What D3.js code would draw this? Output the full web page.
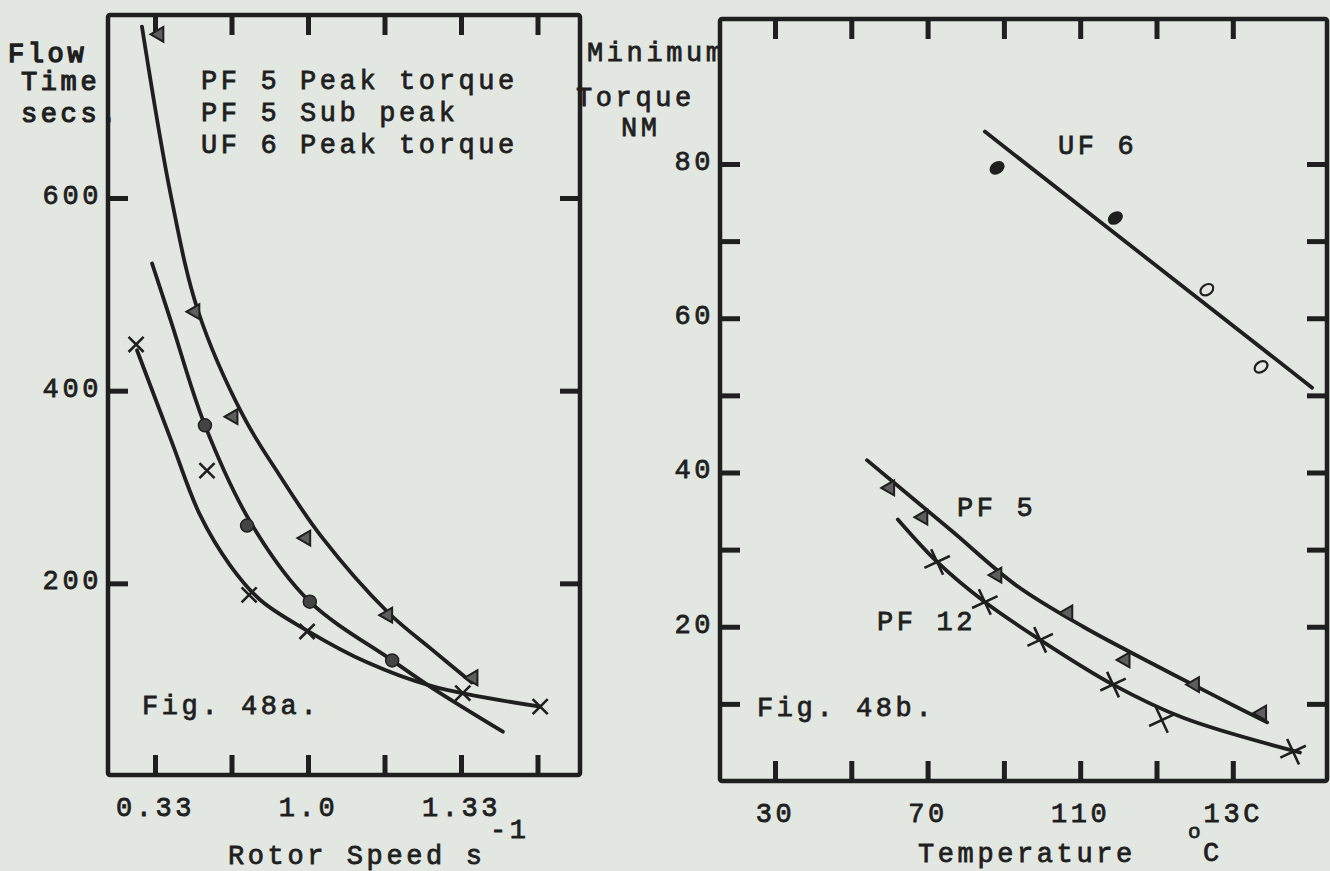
<!DOCTYPE html>
<html>
<head>
<meta charset="utf-8">
<script src="https://cdn.jsdelivr.net/npm/d3@7"></script>
<style>
  html, body { margin: 0; padding: 0; background: #e3e7e1; }
  svg { display: block; }
  text {
    font-family: "Liberation Mono", "DejaVu Sans Mono", monospace;
    font-size: 27px;
    letter-spacing: 3.6px;
    fill: #1f1f1f;
    stroke: #1f1f1f;
    stroke-width: 0.8px;
  }
</style>
</head>
<body>
<svg id="chart" width="1330" height="871"></svg>
<script>
// ---------- Fig. 48a : flow time against rotor speed ----------
const speedTicks = [0.33, 0.67, 1.0, 1.17, 1.33, 1.5];
const speedTickLabels = ["0.33", "", "1.0", "", "1.33", ""];
const flowTicks = [200, 400, 600];
const flowLegend = ["PF 5 Peak torque", "PF 5 Sub peak", "UF 6 Peak torque"];

// measured points [rotor speed, flow time]
const pf5PeakPts = [[0.348, 770], [0.508, 482], [0.677, 373], [0.991, 247], [1.177, 167], [1.357, 102]];
const pf5SubPts  = [[0.552, 364], [0.737, 260], [1.004, 181], [1.186, 120]];
const uf6PeakPts = [[0.246, 448], [0.561, 317], [0.746, 188], [0.996, 150], [1.334, 86], [1.506, 72]];

// hand-drawn fitted curves
const pf5PeakFit = [[0.272, 778], [0.401, 602], [0.521, 483], [0.720, 374], [0.875, 313], [1.029, 249], [1.177, 170], [1.265, 133], [1.354, 97]];
const pf5SubFit  = [[0.317, 532], [0.401, 472], [0.552, 364], [0.758, 261], [1.004, 181], [1.186, 120], [1.271, 91], [1.423, 46]];
const uf6PeakFit = [[0.250, 442], [0.401, 349], [0.530, 271], [0.663, 219], [0.793, 183], [0.996, 151], [1.131, 118], [1.271, 93], [1.506, 72]];

// ---------- Fig. 48b : minimum torque against temperature ----------
const tempTicks = [30, 50, 70, 90, 110, 120, 130];
const tempTickLabels = ["30", "", "70", "", "110", "", "13C"];
const torqueTicks = [10, 20, 30, 40, 50, 60, 70, 80];
const torqueLabelled = [20, 40, 60, 80];

// measured points [temperature, torque]
const uf6Pts  = [[88.2, 79.5], [114.6, 73.0], [126.6, 63.7], [133.7, 53.7]];
const pf5Pts  = [[60.1, 38.0], [68.8, 34.2], [88.2, 26.7], [106.8, 21.8], [115.9, 15.7], [125.0, 12.5], [133.8, 8.8]];
const pf12Pts = [[72.5, 28.4], [85.0, 23.2], [99.5, 18.3], [114.3, 12.5], [120.7, 7.9], [137.9, 3.8]];

// fitted lines
const uf6Fit  = [[85.0, 84.2], [140.4, 51.0]];
const pf5Fit  = [[54.1, 41.6], [75.9, 32.6], [93.4, 25.3], [110.4, 20.0], [119.1, 15.4], [127.9, 10.9], [134.5, 7.6]];
const pf12Fit = [[62.2, 33.9], [72.5, 28.4], [85.0, 23.2], [99.5, 18.3], [114.3, 12.5], [123.5, 8.2], [138.8, 3.7]];

// ---------- drawing ----------
const INK = "#1f1f1f";
const svg = d3.select("#chart");

const A = { left: 108, right: 580, top: 15, bottom: 775, tick0: 155, step: 76.5 };
const B = { left: 720, right: 1327, top: 19, bottom: 781, tick0: 775, step: 76.3 };

// typed tick values are not evenly spaced, so each axis is piecewise linear
const xA = d3.scaleLinear().domain(speedTicks).range(speedTicks.map((d, i) => A.tick0 + i * A.step));
const yA = d3.scaleLinear().domain([0, 790]).range([776, A.top]);
const xB = d3.scaleLinear().domain(tempTicks).range(tempTicks.map((d, i) => B.tick0 + i * B.step));
const yB = d3.scaleLinear().domain([0, 98.8]).range([781, B.top]);

const TICK = 20;

function styleAxis(g) {
  g.select(".domain").remove();
  g.selectAll(".tick line").attr("stroke", INK).attr("stroke-width", 5);
}

function drawPanel(P, x, y, xVals, xLabs, yVals, yFmt) {
  const g = svg.append("g");
  // tick marks on all four sides point into the plot
  const bottom = g.append("g").attr("transform", `translate(0,${P.bottom})`)
    .call(d3.axisBottom(x).tickValues(xVals).tickSize(-TICK).tickPadding(0)
      .tickFormat((d, i) => xLabs[i]));
  styleAxis(bottom);
  bottom.selectAll(".tick text").attr("y", 41).attr("dy", 0);

  g.append("g").attr("transform", `translate(0,${P.top})`)
    .call(d3.axisTop(x).tickValues(xVals).tickSize(-TICK).tickFormat(""))
    .call(styleAxis);

  const left = g.append("g").attr("transform", `translate(${P.left},0)`)
    .call(d3.axisLeft(y).tickValues(yVals).tickSize(-TICK).tickPadding(6).tickFormat(yFmt));
  styleAxis(left);
  left.selectAll(".tick text").attr("dy", "0.2em").attr("text-anchor", "end");

  g.append("g").attr("transform", `translate(${P.right},0)`)
    .call(d3.axisRight(y).tickValues(yVals).tickSize(-TICK).tickFormat(""))
    .call(styleAxis);

  g.selectAll(".tick text")
    .attr("font-family", null).attr("font-size", null)
    .attr("fill", INK);

  return g;
}

// axis titles (drawn first so the frames sit over their edges)
const titles = svg.append("g");
titles.append("text").attr("x", 8).attr("y", 62).text("Flow").style("stroke-width", "1.5px");
titles.append("text").attr("x", 21).attr("y", 90).text("Time").style("stroke-width", "1.2px");
titles.append("text").attr("x", 21).attr("y", 122).text("secs.").style("stroke-width", "1.2px");
titles.append("text").attr("x", 587).attr("y", 61).text("Minimum");
titles.append("text").attr("x", 576).attr("y", 106).text("Torque");
titles.append("text").attr("x", 621).attr("y", 136).text("NM");

titles.append("text").attr("x", 228).attr("y", 864).text("Rotor Speed s");
titles.append("text").attr("x", 490).attr("y", 838).text("-1");
titles.append("text").attr("x", 918).attr("y", 862).text("Temperature");
titles.append("text").attr("x", 1188).attr("y", 838).text("o").style("font-size", "21px");
titles.append("text").attr("x", 1203).attr("y", 861).text("C");

const pA = drawPanel(A, xA, yA, speedTicks, speedTickLabels, flowTicks, d => d);
const pB = drawPanel(B, xB, yB, tempTicks, tempTickLabels, torqueTicks,
  d => torqueLabelled.includes(d) ? d : "");

// frames
[A, B].forEach(P => {
  svg.append("rect")
    .attr("x", P.left).attr("y", P.top)
    .attr("width", P.right - P.left).attr("height", P.bottom - P.top)
    .attr("fill", "none").attr("stroke", INK).attr("stroke-width", 4.5)
    .attr("rx", 2);
});

// smooth fitted curves
const curveA = d3.line().x(d => xA(d[0])).y(d => yA(d[1])).curve(d3.curveCatmullRom.alpha(0.5));
const curveB = d3.line().x(d => xB(d[0])).y(d => yB(d[1])).curve(d3.curveCatmullRom.alpha(0.5));

[pf5PeakFit, pf5SubFit, uf6PeakFit].forEach(s =>
  svg.append("path").attr("d", curveA(s)).attr("fill", "none")
    .attr("stroke", INK).attr("stroke-width", 3.8).attr("stroke-linecap", "round"));
[uf6Fit, pf5Fit, pf12Fit].forEach(s =>
  svg.append("path").attr("d", curveB(s)).attr("fill", "none")
    .attr("stroke", INK).attr("stroke-width", 3.8).attr("stroke-linecap", "round"));

// markers
const tri = d3.symbol().type(d3.symbolTriangle).size(95);
const times = d3.symbol().type(d3.symbolTimes).size(150);
const plus = d3.symbol().type(d3.symbolPlus).size(260);

function triangles(data, x, y) {
  svg.append("g").selectAll("path").data(data).join("path")
    .attr("d", tri)
    .attr("transform", d => `translate(${x(d[0])},${y(d[1])}) rotate(-90)`)
    .attr("fill", "#5e5e5e").attr("stroke", INK).attr("stroke-width", 2);
}
function crosses(data, x, y, sym, angle) {
  svg.append("g").selectAll("path").data(data).join("path")
    .attr("d", sym)
    .attr("transform", d => `translate(${x(d[0])},${y(d[1])}) rotate(${angle})`)
    .attr("fill", "none").attr("stroke", INK).attr("stroke-width", 2.6);
}

triangles(pf5PeakPts, xA, yA);
svg.append("g").selectAll("circle").data(pf5SubPts).join("circle")
  .attr("cx", d => xA(d[0])).attr("cy", d => yA(d[1])).attr("r", 6.5)
  .attr("fill", "#444").attr("stroke", INK).attr("stroke-width", 1.5);
crosses(uf6PeakPts, xA, yA, times, 0);

svg.append("g").selectAll("ellipse").data(uf6Pts).join("ellipse")
  .attr("transform", d => `translate(${xB(d[0])},${yB(d[1])}) rotate(-35)`)
  .attr("rx", 7).attr("ry", 5)
  .attr("fill", (d, i) => i < 2 ? INK : "none")
  .attr("stroke", INK).attr("stroke-width", 2.2);
triangles(pf5Pts, xB, yB);
crosses(pf12Pts, xB, yB, plus, -25);

// in-plot labels
const labels = svg.append("g");
flowLegend.forEach((t, i) =>
  labels.append("text").attr("x", 201).attr("y", 89 + i * 32).text(t));
labels.append("text").attr("x", 142).attr("y", 714).text("Fig. 48a.");
labels.append("text").attr("x", 757).attr("y", 716).text("Fig. 48b.");
labels.append("text").attr("x", 1058).attr("y", 154).text("UF 6");
labels.append("text").attr("x", 957).attr("y", 516).text("PF 5");
labels.append("text").attr("x", 877).attr("y", 630).text("PF 12");
</script>
</body>
</html>
